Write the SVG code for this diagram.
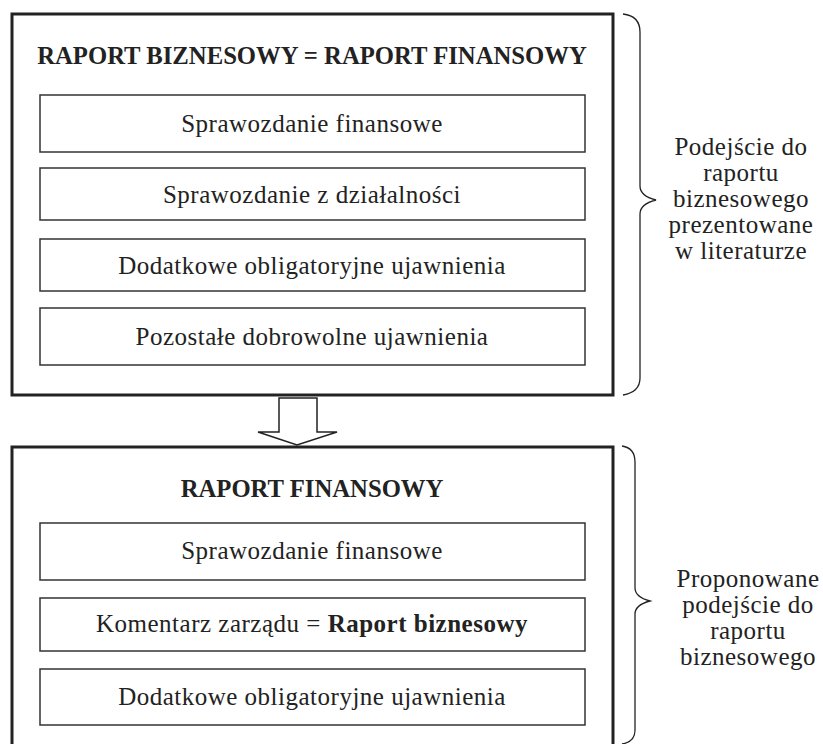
<svg xmlns="http://www.w3.org/2000/svg" width="823" height="744" viewBox="0 0 823 744">
<style>
.outer{fill:#fff;stroke:#222;stroke-width:3}
.inner{fill:#fff;stroke:#333;stroke-width:1.5}
.t{font-family:"Liberation Serif","DejaVu Serif",serif;font-size:25px;letter-spacing:0.5px;fill:#222;text-anchor:middle}
.h{font-family:"Liberation Serif","DejaVu Serif",serif;font-size:24.7px;font-weight:bold;fill:#222;text-anchor:middle}
.brace{fill:none;stroke:#222;stroke-width:1.3}
</style>
<rect width="823" height="744" fill="#fff"/>
<g id="box-top">
<rect class="outer" x="12" y="14" width="601" height="381"/>
<text class="h" x="312" y="64">RAPORT BIZNESOWY = RAPORT FINANSOWY</text>
</g>
<g id="n1"><rect class="inner" x="40" y="95" width="545" height="57"/><text class="t" x="312" y="132">Sprawozdanie finansowe</text></g>
<g id="n2"><rect class="inner" x="40" y="168" width="545" height="52"/><text class="t" x="312" y="203">Sprawozdanie z działalności</text></g>
<g id="n3"><rect class="inner" x="40" y="239" width="545" height="52"/><text class="t" x="312" y="274">Dodatkowe obligatoryjne ujawnienia</text></g>
<g id="n4"><rect class="inner" x="40" y="308" width="545" height="57"/><text class="t" x="312" y="345">Pozostałe dobrowolne ujawnienia</text></g>
<g id="box-bottom">
<rect class="outer" x="12" y="447" width="601" height="310"/>
<text class="h" x="312" y="497">RAPORT FINANSOWY</text>
</g>
<g id="m1"><rect class="inner" x="40" y="523" width="545" height="57"/><text class="t" x="312" y="559">Sprawozdanie finansowe</text></g>
<g id="m2"><rect class="inner" x="40" y="598" width="545" height="53"/><text class="t" x="312" y="632">Komentarz zarządu = <tspan font-weight="bold">Raport biznesowy</tspan></text></g>
<g id="m3"><rect class="inner" x="40" y="669" width="545" height="56"/><text class="t" x="312" y="705">Dodatkowe obligatoryjne ujawnienia</text></g>
<g id="connectors">
<path d="M279,398 H317 V432 H337 L297,445 L258,432 H279 Z" fill="#fff" stroke="#222" stroke-width="1.5"/>
</g>
<g id="brace-top">
<path class="brace" d="M623,14 Q640,16 640,32 V186 Q640,196 656,200 Q640,204 640,214 V378 Q640,392 623,395"/>
<text class="t" x="741" y="155">Podejście do</text>
<text class="t" x="741" y="181">raportu</text>
<text class="t" x="741" y="207">biznesowego</text>
<text class="t" x="741" y="233">prezentowane</text>
<text class="t" x="741" y="259">w literaturze</text>
</g>
<g id="brace-bottom">
<path class="brace" d="M622,446 Q635,448 635,462 V588 Q635,597 650,601 Q635,605 635,614 V730 Q635,742 622,744"/>
<text class="t" x="748" y="587">Proponowane</text>
<text class="t" x="748" y="613">podejście do</text>
<text class="t" x="748" y="639">raportu</text>
<text class="t" x="748" y="665">biznesowego</text>
</g>
</svg>
